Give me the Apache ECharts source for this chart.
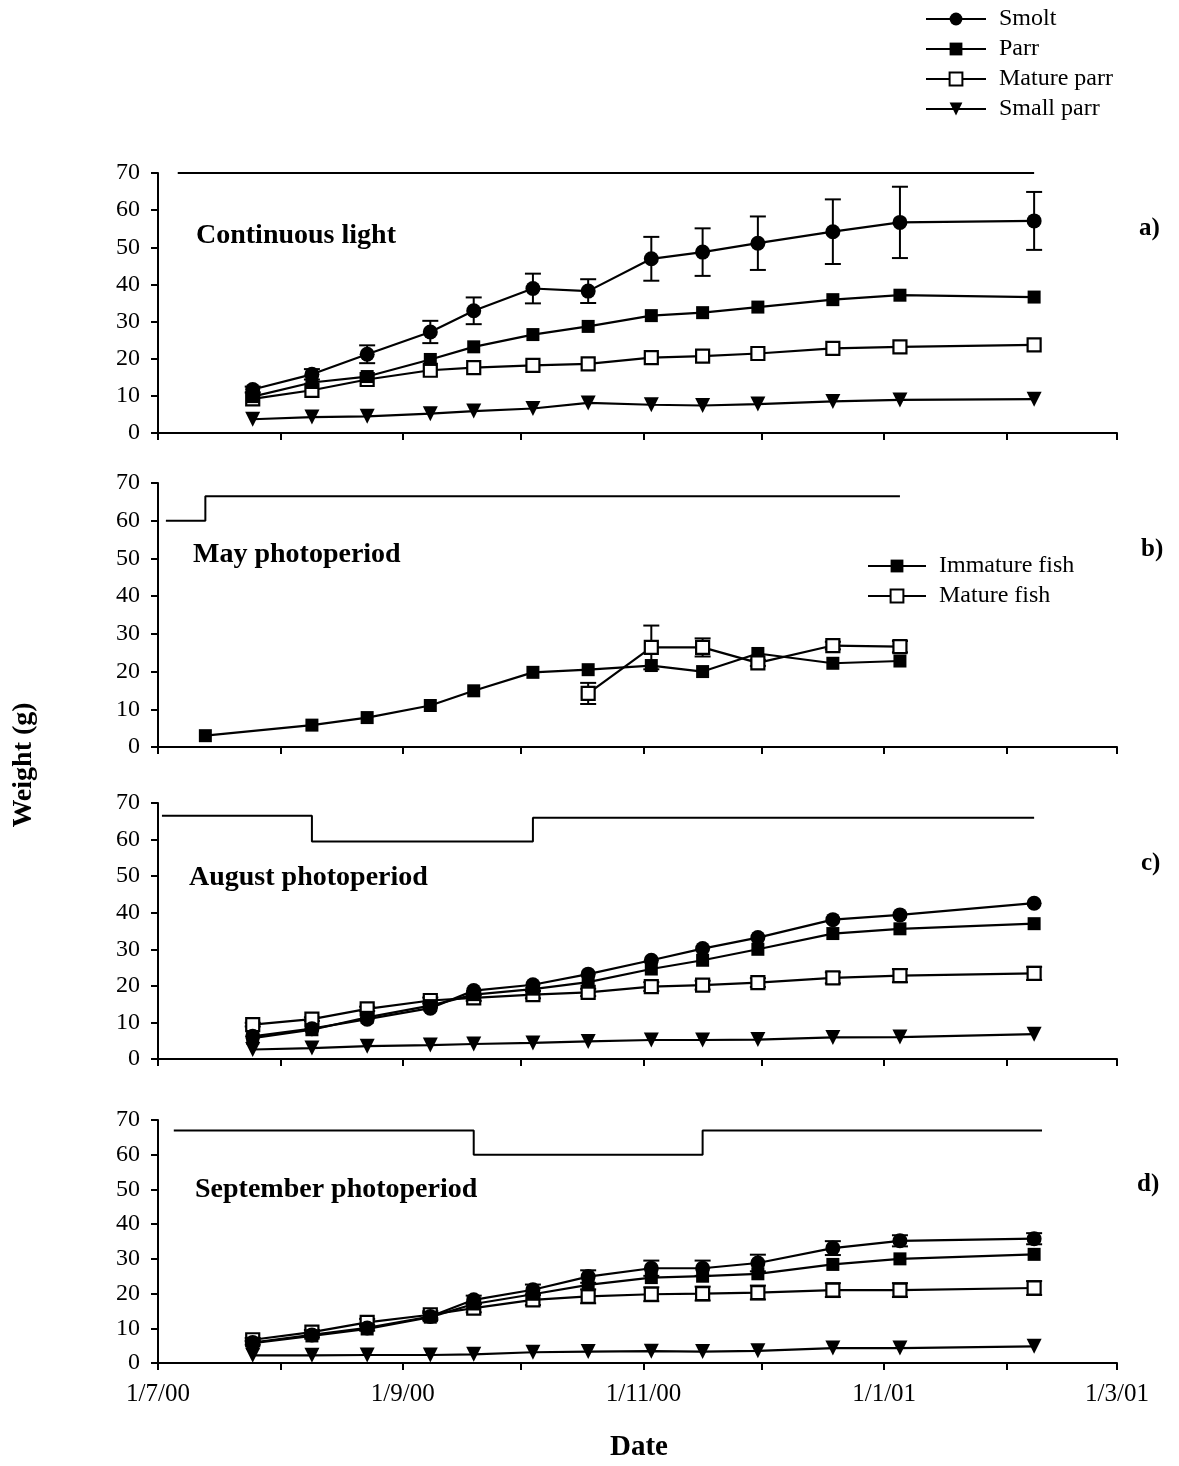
<!DOCTYPE html>
<html>
<head>
<meta charset="utf-8">
<title>Weight by photoperiod</title>
<script src="https://cdn.jsdelivr.net/npm/echarts@6/dist/echarts.min.js"></script>
<style>
html,body{margin:0;padding:0;background:#fff;}
#main{width:1179px;height:1466px;}
</style>
</head>
<body>
<div id="main"></div>
<script>
// sampling dates
var dates = ['2000-07-25','2000-08-09','2000-08-23','2000-09-08','2000-09-19','2000-10-04','2000-10-18',
             '2000-11-03','2000-11-16','2000-11-30','2000-12-19','2001-01-05','2001-02-08'];
var datesB = ['2000-07-13','2000-08-09','2000-08-23','2000-09-08','2000-09-19','2000-10-04','2000-10-18',
              '2000-11-03','2000-11-16','2000-11-30','2000-12-19','2001-01-05'];
var datesMatureB = ['2000-10-18','2000-11-03','2000-11-16','2000-11-30','2000-12-19','2001-01-05'];

// axis ticks
var monthTicks = ['2000-07-01','2000-08-01','2000-09-01','2000-10-01','2000-11-01','2000-12-01',
                  '2001-01-01','2001-02-01','2001-03-01'];
var dateLabels = ['2000-07-01','2000-09-01','2000-11-01','2001-01-01','2001-03-01'];
var weightTicks = [0, 10, 20, 30, 40, 50, 60, 70];

// a) continuous light
var smoltA = [11.7, 15.8, 21.2, 27.2, 32.9, 38.9, 38.2, 46.9, 48.7, 51.1, 54.2, 56.7, 57.1];
var smoltErrA = [0.8, 1.4, 2.4, 3.0, 3.6, 4.0, 3.2, 5.9, 6.4, 7.2, 8.7, 9.6, 7.8];
var parrA = [9.8, 13.6, 15.2, 19.8, 23.2, 26.5, 28.7, 31.6, 32.4, 33.9, 35.9, 37.1, 36.6];
var matureA = [9.2, 11.5, 14.4, 16.9, 17.6, 18.2, 18.6, 20.3, 20.7, 21.4, 22.8, 23.2, 23.7];
var smallA = [3.7, 4.3, 4.5, 5.2, 5.9, 6.6, 8.1, 7.6, 7.4, 7.8, 8.5, 8.9, 9.1];

// b) May photoperiod
var immatureB = [3.0, 5.8, 7.8, 11.0, 14.9, 19.8, 20.5, 21.6, 20.0, 24.8, 22.2, 22.8];
var matureB = [14.2, 26.4, 26.4, 22.3, 26.9, 26.6];
var matureErrB = [2.8, 5.8, 2.4, 0.8, 1.0, 1.5];

// c) August photoperiod
var smoltC = [6.2, 8.3, 10.9, 13.9, 18.7, 20.3, 23.2, 27.0, 30.2, 33.2, 38.1, 39.4, 42.6];
var parrC = [5.7, 8.0, 11.4, 14.6, 17.6, 19.1, 21.0, 24.6, 27.0, 30.0, 34.3, 35.6, 37.0];
var matureC = [9.4, 10.9, 13.7, 16.0, 16.7, 17.6, 18.2, 19.8, 20.2, 20.9, 22.2, 22.8, 23.4];
var matureErrC = [0.5, 0.5, 0.6, 0.8, 0.8, 1.0, 1.0, 1.2, 1.2, 1.2, 1.5, 1.8, 1.8];
var smallC = [2.6, 3.0, 3.5, 3.8, 4.1, 4.4, 4.8, 5.2, 5.2, 5.3, 5.9, 6.0, 6.8];

// d) September photoperiod
var smoltD = [5.9, 8.1, 10.1, 13.4, 18.2, 21.1, 24.9, 27.3, 27.3, 28.8, 33.1, 35.2, 35.8];
var smoltErrD = [0.6, 0.7, 0.8, 1.0, 1.2, 1.5, 1.8, 2.2, 2.2, 2.4, 2.0, 1.6, 1.6];
var parrD = [5.7, 7.8, 9.8, 13.2, 17.0, 19.8, 22.5, 24.6, 25.0, 25.7, 28.4, 30.0, 31.3];
var matureD = [6.7, 8.9, 11.7, 13.9, 15.8, 18.2, 19.2, 19.8, 20.0, 20.3, 21.0, 21.0, 21.6];
var matureErrD = [0.5, 0.6, 1.0, 1.0, 1.2, 1.5, 2.0, 2.0, 2.0, 2.0, 2.0, 2.0, 2.0];
var smallD = [2.2, 2.2, 2.3, 2.3, 2.5, 3.1, 3.3, 3.4, 3.3, 3.5, 4.3, 4.3, 4.8];

// photoperiod traces drawn at the top of each panel
var lightDatesA = ['2000-07-06','2001-02-08'];
var lightA = [70, 70];
var lightDatesB = ['2000-07-03','2000-07-13','2001-01-05'];
var lightB = [60, 66.5, 66.5];
var lightDatesC = ['2000-07-02','2000-08-09','2000-10-04','2001-02-08'];
var lightC = [66.5, 59.5, 66, 66];
var lightDatesD = ['2000-07-05','2000-09-19','2000-11-16','2001-02-10'];
var lightD = [67, 60, 67, 67];

var serif = '"Liberation Serif","Times New Roman",serif';

function toTime(s){
    var p = s.split('-');
    return new Date(+p[0], +p[1]-1, +p[2]).getTime();
}
function pts(ds, vals){
    return ds.map(function(d, i){ return [toTime(d), vals[i]]; });
}
function errPts(ds, vals, errs){
    return ds.map(function(d, i){ return [toTime(d), vals[i]-errs[i], vals[i]+errs[i]]; });
}
function fmtDate(v){
    var d = new Date(v);
    return d.getDate()+'/'+(d.getMonth()+1)+'/'+String(d.getFullYear()).slice(2);
}

// marker styles
var sty = {
    'Smolt': {symbol:'circle', size:15, item:{color:'#000'}},
    'Parr': {symbol:'rect', size:13, item:{color:'#000'}},
    'Mature parr': {symbol:'rect', size:13, item:{color:'#fff', borderColor:'#000', borderWidth:2.2}},
    'Small parr': {symbol:'triangle', size:15, rotate:180, item:{color:'#000'}},
    'Immature fish': {symbol:'rect', size:13, item:{color:'#000'}},
    'Mature fish': {symbol:'rect', size:13, item:{color:'#fff', borderColor:'#000', borderWidth:2.2}}
};

function lineSeries(name, idx, ds, vals){
    var s = sty[name];
    return {
        name: name, type: 'line', xAxisIndex: idx, yAxisIndex: idx,
        data: pts(ds, vals),
        symbol: s.symbol, symbolSize: s.size, symbolRotate: s.rotate || 0,
        itemStyle: s.item,
        lineStyle: {color:'#000', width:2.2},
        z: 3
    };
}

function lightSeries(idx, ds, vals){
    return {
        type: 'line', xAxisIndex: idx, yAxisIndex: idx, step: 'end',
        data: pts(ds, vals), showSymbol: false, symbol: 'none',
        lineStyle: {color:'#000', width:2}, z: 2
    };
}

// error bars
function renderErr(params, api){
    var x = api.value(0);
    var lo = api.coord([x, api.value(1)]);
    var hi = api.coord([x, api.value(2)]);
    var w = 8;
    var st = {stroke:'#000', lineWidth:2};
    return {type:'group', children:[
        {type:'line', shape:{x1:lo[0], y1:lo[1], x2:hi[0], y2:hi[1]}, style:st},
        {type:'line', shape:{x1:lo[0]-w, y1:lo[1], x2:lo[0]+w, y2:lo[1]}, style:st},
        {type:'line', shape:{x1:hi[0]-w, y1:hi[1], x2:hi[0]+w, y2:hi[1]}, style:st}
    ]};
}
function errSeries(idx, ds, vals, errs){
    return {
        type: 'custom', xAxisIndex: idx, yAxisIndex: idx,
        data: errPts(ds, vals, errs), renderItem: renderErr,
        encode: {x:0, y:[1, 2]}, z: 1
    };
}

var grids = [
    {left:158, right:62, top:173, height:260},
    {left:158, right:62, top:483, height:264},
    {left:158, right:62, top:803, height:256},
    {left:158, right:62, top:1120, height:243}
];

// dates kept as timestamps on a value axis so the month ticks can be placed exactly
var xAxes = grids.map(function(g, i){
    return {
        type: 'value', gridIndex: i, scale: true,
        min: toTime(monthTicks[0]), max: toTime(monthTicks[monthTicks.length-1]),
        axisLine: {show:true, onZero:false, lineStyle:{color:'#000', width:2}},
        axisTick: {show:true, length:7, lineStyle:{color:'#000', width:2},
                   customValues: monthTicks.map(toTime)},
        axisLabel: {show: i == 3, customValues: dateLabels.map(toTime), formatter: fmtDate,
                    color:'#000', fontFamily: serif, fontSize: 25, margin: 19},
        splitLine: {show:false}
    };
});

var yAxes = grids.map(function(g, i){
    return {
        type: 'value', gridIndex: i,
        min: weightTicks[0], max: weightTicks[weightTicks.length-1], interval: 10,
        axisLine: {show:true, lineStyle:{color:'#000', width:2}},
        axisTick: {show:true, length:7, lineStyle:{color:'#000', width:2}},
        axisLabel: {color:'#000', fontFamily: serif, fontSize: 24, margin: 18},
        splitLine: {show:false}
    };
});

var series = [
    lightSeries(0, lightDatesA, lightA),
    errSeries(0, dates, smoltA, smoltErrA),
    lineSeries('Small parr', 0, dates, smallA),
    lineSeries('Mature parr', 0, dates, matureA),
    lineSeries('Parr', 0, dates, parrA),
    lineSeries('Smolt', 0, dates, smoltA),

    lightSeries(1, lightDatesB, lightB),
    errSeries(1, datesMatureB, matureB, matureErrB),
    lineSeries('Immature fish', 1, datesB, immatureB),
    lineSeries('Mature fish', 1, datesMatureB, matureB),

    lightSeries(2, lightDatesC, lightC),
    errSeries(2, dates, matureC, matureErrC),
    lineSeries('Small parr', 2, dates, smallC),
    lineSeries('Mature parr', 2, dates, matureC),
    lineSeries('Parr', 2, dates, parrC),
    lineSeries('Smolt', 2, dates, smoltC),

    lightSeries(3, lightDatesD, lightD),
    errSeries(3, dates, smoltD, smoltErrD),
    errSeries(3, dates, matureD, matureErrD),
    lineSeries('Small parr', 3, dates, smallD),
    lineSeries('Mature parr', 3, dates, matureD),
    lineSeries('Parr', 3, dates, parrD),
    lineSeries('Smolt', 3, dates, smoltD)
];

var legendText = {color:'#000', fontFamily: serif, fontSize: 24, lineHeight: 24, padding:[0, 0, 0, 8]};

// panel titles and axis names
var texts = [
    ['Continuous light', 196, 222], ['May photoperiod', 193, 541],
    ['August photoperiod', 189, 864], ['September photoperiod', 195, 1176],
    ['a)', 1139, 216], ['b)', 1141, 537], ['c)', 1141, 851], ['d)', 1137, 1172]
];
var graphic = texts.map(function(t){
    var big = t[0].length > 2;
    return {type:'text', left:t[1], top:t[2],
            style:{text:t[0], fill:'#000', font:'bold ' + (big ? 28 : 25) + 'px ' + serif}};
});
graphic.push({type:'text', x:24, y:765, rotation:Math.PI/2,
              style:{text:'Weight (g)', fill:'#000', font:'bold 28px ' + serif, align:'center', verticalAlign:'middle'}});
graphic.push({type:'text', x:639, y:1448,
              style:{text:'Date', fill:'#000', font:'bold 29px ' + serif, align:'center', verticalAlign:'middle'}});

var myChart = echarts.init(document.getElementById('main'));
var option = {
    backgroundColor: '#fff',
    animation: false,
    grid: grids,
    xAxis: xAxes,
    yAxis: yAxes,
    legend: [
        {data:['Smolt','Parr','Mature parr','Small parr'], orient:'vertical', left:920, top:2,
         itemWidth:60, itemHeight:16, itemGap:6, textStyle: legendText, selectedMode:false},
        {data:['Immature fish','Mature fish'], orient:'vertical', left:862, top:549,
         itemWidth:58, itemHeight:16, itemGap:6, textStyle: legendText, selectedMode:false}
    ],
    graphic: graphic,
    series: series
};
myChart.setOption(option);
</script>
</body>
</html>
